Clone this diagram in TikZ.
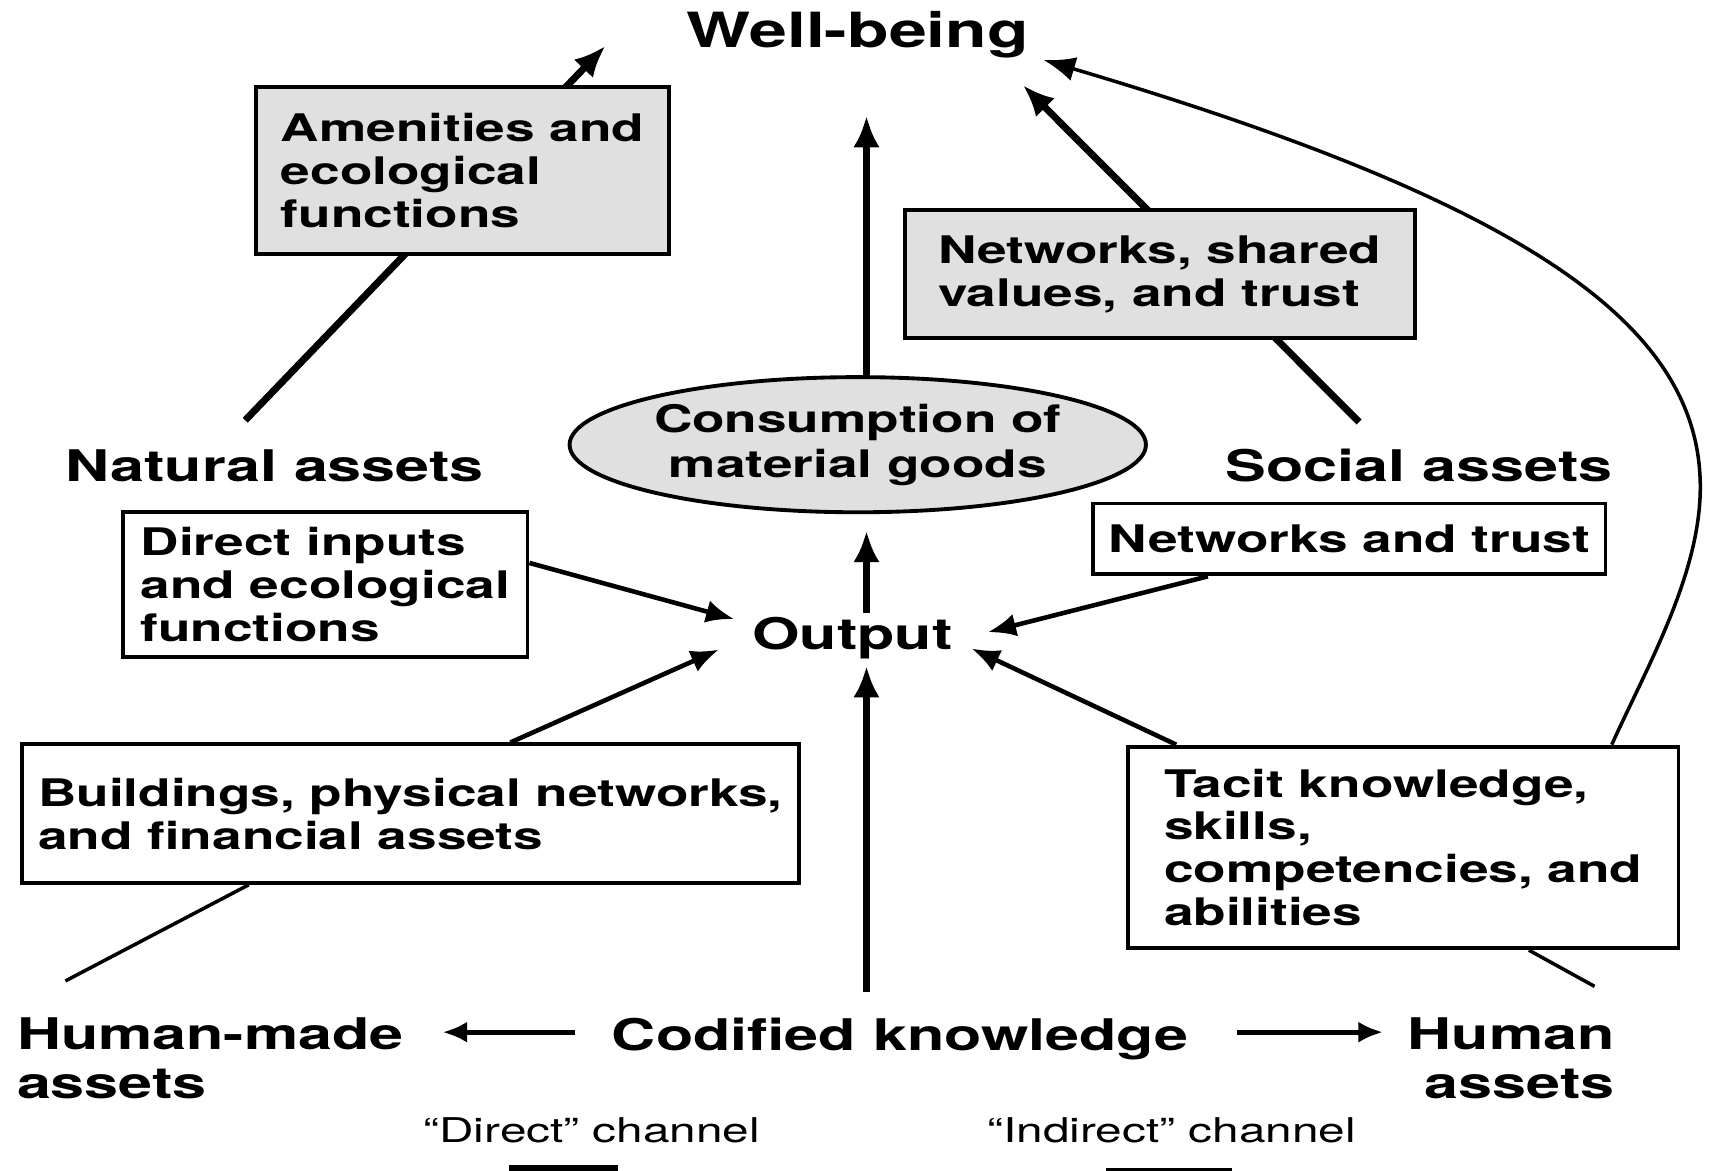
\documentclass[tikz,border=0pt]{standalone}
\usepackage{fontspec}
\setmainfont{TeX Gyre Heros}[FakeStretch=1.4]
\usetikzlibrary{arrows.meta,shapes.geometric,calc}

\def\pxu{0.0109}

\begin{document}
\begin{tikzpicture}[x=\pxu cm,y=-\pxu cm,
  lbl/.style={inner sep=0pt,font=\fontsize{12.4}{13.9}\selectfont\bfseries},
  assetbox/.style={draw,line width=1.1pt,align=left,inner sep=0pt,fill=white,
    font=\fontsize{10.8}{12.2}\selectfont\bfseries},
  shaded/.style={fill=black!12},
  sz/.style 2 args={minimum width=#1*\pxu cm,minimum height=#2*\pxu cm},
  direct/.style={line width=2pt,-{Latex[length=9pt,width=7.5pt]}},
  indirect/.style={line width=1.3pt,-{Latex[length=8pt,width=6.5pt]}},
  thinline/.style={line width=1pt},
  sidearrow/.style={line width=1.4pt,-{Latex[length=7pt,width=6pt]}},
  legend/.style={inner sep=0pt,font=\fontsize{9.7}{11}\selectfont}]
\useasboundingbox[fill=white] (0,0) rectangle (1568,1074);

% outcomes and asset stocks
\node[inner sep=0pt,font=\fontsize{13.8}{16}\selectfont\bfseries] (wb) at (787,32) {Well-being};
\node[lbl] (nat) at (252,427) {Natural assets};
\node[lbl] (soc) at (1302,427) {Social assets};
\node[lbl] (out) at (782,585) {Output};
\node[lbl,anchor=north] (cod) at (826,933) {Codified knowledge};
\node[lbl,anchor=north west,align=left] (hm) at (15,933) {Human-made\\assets};
\node[lbl,anchor=north east,align=right] (ha) at (1482,933) {Human\\assets};
\coordinate (spine) at (795,0);

% direct channel runs under the shaded boxes
\draw[direct] ($(nat.north)+(-27,-26)$) -- ($(wb.west)+(-74,10)$);
\draw[direct] ($(soc.north)+(-55,-24)$) -- ($(wb.east)+(-6,46)$);

\node[assetbox,shaded,sz={379}{153}] (amen) at (424.5,156.5) {Amenities and\\ecological\\functions};
\node[assetbox,shaded,sz={468}{117}] (nsv) at (1064,251.5) {Networks, shared\\values, and trust};
\node[ellipse,draw,line width=1.1pt,shaded,sz={456}{124},inner sep=0pt,align=center,
  font=\fontsize{10.8}{12.8}\selectfont\bfseries] (cons) at (787,408) {Consumption of\\material goods};
\node[assetbox,sz={371}{133}] (dinp) at (298.5,536.5) {Direct inputs\\and ecological\\functions};
\node[assetbox,sz={470}{65}] (ntr) at (1238,494.5) {Networks and trust};
\node[assetbox,sz={713}{127}] (bld) at (376.5,746.5) {Buildings, physical networks,\\and financial assets};
\node[assetbox,sz={505}{185}] (tac) at (1287.5,777.5) {Tacit knowledge,\\skills,\\competencies, and\\abilities};

\draw[direct] (cons.north -| spine) -- ($(wb.south -| spine)+(0,52)$);
\draw[direct] ($(out.north -| spine)+(0,-3)$) -- ($(cons.south -| spine)+(0,15)$);
\draw[direct] ($(cod.north -| spine)+(0,-23)$) -- ($(out.south -| spine)+(0,6)$);

% indirect channel into output
\draw[indirect] ($(dinp.east)+(0,-20)$) -- ($(out.west)+(-16,-17)$);
\draw[indirect] ($(bld.north west)+(450,0)$) -- ($(out.west)+(-30,11)$);
\draw[indirect] ($(ntr.south west)+(107,0)$) -- ($(out.east)+(32,-5)$);
\draw[indirect] ($(tac.north west)+(46,0)$) -- ($(out.east)+(17,10)$);
\draw[thinline,-{Latex[length=9pt,width=7pt]}] ($(tac.north east)+(-63,0)$)
  .. controls (1511,612) and (1560,527) .. (1560,447)
  .. controls (1560,297) and (1399,186) .. ($(wb.east)+(13,23)$);

\draw[thinline] ($(hm.north west)+(45,-33)$) -- ($(bld.south west)+(210,0)$);
\draw[thinline] ($(ha.north east)+(-19,-28)$) -- ($(tac.south east)+(-139,0)$);
\draw[sidearrow] ($(cod.north west)+(-33,14)$) -- ($(hm.north east)+(35,14)$);
\draw[sidearrow] ($(cod.north east)+(44,14)$) -- ($(ha.north west)+(-22,14)$);

% legend
\node[legend] (ldir) at (543,1037) {``Direct'' channel};
\node[legend] (lind) at (1075,1037) {``Indirect'' channel};
\draw[line width=4pt] (467,1075) -- (567,1075);
\draw[line width=2pt] (1015,1075) -- (1130,1075);
\end{tikzpicture}
\end{document}
